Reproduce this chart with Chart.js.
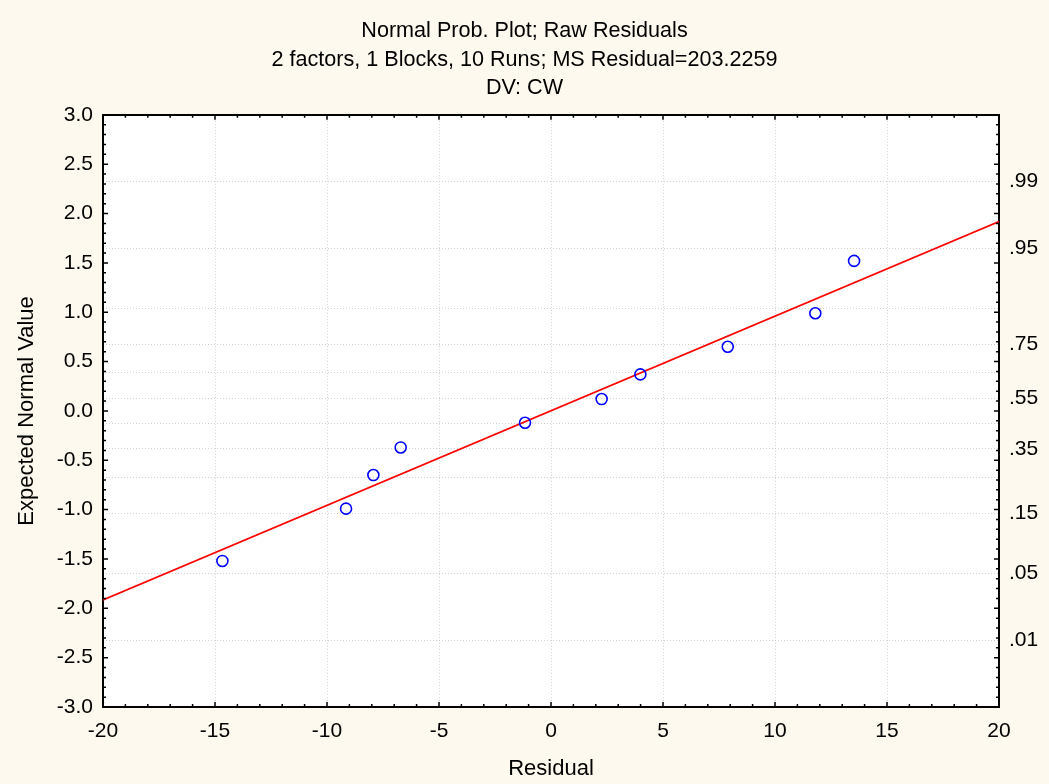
<!DOCTYPE html>
<html>
<head>
<meta charset="utf-8">
<script src="https://cdn.jsdelivr.net/npm/chart.js@4.4.1/dist/chart.umd.min.js"></script>
<style>
  html, body { margin: 0; padding: 0; background: #fdf9ee; }
  #wrap { width: 1049px; height: 784px; }
</style>
</head>
<body>
<div id="wrap"><canvas id="chart" width="1049" height="784"></canvas></div>
<script>
// --- values -------------------------------------------
const residuals = [-14.67, -9.15, -7.93, -6.71, -1.16, 2.26, 3.99, 7.89, 11.80, 13.53];
const expectedNormal = [-1.52, -0.99, -0.65, -0.37, -0.12, 0.12, 0.37, 0.65, 0.99, 1.52];

// fitted line, ends at the plot edges
const fitLineX = [-20, 20];
const fitLineY = [-1.915, 1.919];

// right axis: probabilities and their normal quantiles
const probTicks = ['.01', '.05', '.15', '.25', '.35', '.45', '.55', '.65', '.75', '.85', '.95', '.99'];
const probZ = [-2.326, -1.645, -1.036, -0.674, -0.385, -0.126, 0.126, 0.385, 0.674, 1.036, 1.645, 2.326];
const probLabelled = ['.01', '.05', '.15', '.35', '.55', '.75', '.95', '.99'];

const titleLines = [
  'Normal Prob. Plot; Raw Residuals',
  '2 factors, 1 Blocks, 10 Runs; MS Residual=203.2259',
  'DV: CW'
];

const FONT = '"Liberation Sans", Arial, sans-serif';
const GRID = '#d2d2d2';
const BG = '#fdf9ee';

// cream page, white plot area
const backgroundPlugin = {
  id: 'background',
  beforeDraw(chart) {
    const { ctx, chartArea: a } = chart;
    ctx.save();
    ctx.fillStyle = BG;
    ctx.fillRect(0, 0, chart.width, chart.height);
    ctx.fillStyle = '#fff';
    ctx.fillRect(a.left, a.top, a.right - a.left, a.bottom - a.top);
    ctx.restore();
  }
};

// tick marks pointing into the plot on all four sides
const innerTicksPlugin = {
  id: 'innerTicks',
  afterDraw(chart) {
    const { ctx, chartArea: a, scales } = chart;
    ctx.save();
    ctx.strokeStyle = '#000';
    ctx.lineWidth = 1.5;
    ctx.beginPath();
    for (let i = 0; i <= 40; i++) {
      const px = scales.x.getPixelForValue(-20 + i);
      const len = i % 5 === 0 ? 5 : 3;
      ctx.moveTo(px, a.bottom); ctx.lineTo(px, a.bottom - len);
      ctx.moveTo(px, a.top); ctx.lineTo(px, a.top + len);
    }
    for (let i = 0; i <= 60; i++) {
      const py = scales.y.getPixelForValue(-3 + i * 0.1);
      const len = i % 5 === 0 ? 5 : 3;
      ctx.moveTo(a.left, py); ctx.lineTo(a.left + len, py);
      ctx.moveTo(a.right, py); ctx.lineTo(a.right - len, py);
    }
    ctx.stroke();
    ctx.restore();
  }
};

const axisFont = { family: FONT, size: 21 };
const axisTitleFont = { family: FONT, size: 22 };

const config = {
  type: 'scatter',
  data: {
    datasets: [
      {
        label: 'Residuals',
        data: residuals.map((x, i) => ({ x, y: expectedNormal[i] })),
        pointRadius: 5.5,
        pointBorderWidth: 1.6,
        borderColor: '#0000ff',
        backgroundColor: 'rgba(0,0,0,0)',
        xAxisID: 'x',
        yAxisID: 'y'
      },
      {
        label: 'Fit',
        data: fitLineX.map((x, i) => ({ x, y: fitLineY[i] })),
        showLine: true,
        pointRadius: 0,
        borderColor: '#ff0000',
        borderWidth: 1.6,
        xAxisID: 'x',
        yAxisID: 'y'
      }
    ]
  },
  options: {
    responsive: false,
    animation: false,
    layout: { padding: 0 },
    scales: {
      x: {
        type: 'linear', position: 'bottom', min: -20, max: 20,
        ticks: { stepSize: 5, color: '#000', font: axisFont, padding: 12, maxRotation: 0, autoSkip: false },
        grid: { color: GRID, lineWidth: 1, drawTicks: false },
        border: { color: '#000', width: 2, dash: [1, 2] },
        title: { display: true, text: 'Residual', color: '#000', font: axisTitleFont, padding: { top: 0, bottom: 2 } },
        afterFit(s) { s.height = 77; }
      },
      x2: {
        type: 'linear', position: 'top', min: -20, max: 20,
        ticks: { display: false },
        grid: { display: false, drawTicks: false },
        border: { color: '#000', width: 2 },
        afterFit(s) { s.height = 12.3; }
      },
      y: {
        type: 'linear', position: 'left', min: -3, max: 3,
        ticks: { stepSize: 0.5, color: '#000', font: axisFont, padding: 10, callback: (v) => Number(v).toFixed(1) },
        grid: { display: false, drawTicks: false },
        border: { color: '#000', width: 2 },
        title: { display: true, text: 'Expected Normal Value', color: '#000', font: axisTitleFont, padding: { top: 14, bottom: 0 } },
        afterFit(s) { s.width = 103; }
      },
      y2: {
        type: 'linear', position: 'right', min: -3, max: 3,
        afterBuildTicks(s) { s.ticks = probZ.map((v) => ({ value: v })); },
        ticks: {
          autoSkip: false, color: '#000', font: axisFont, padding: 10,
          callback: (v, i) => probLabelled.includes(probTicks[i]) ? probTicks[i] : ''
        },
        grid: { color: GRID, lineWidth: 1, drawTicks: false },
        border: { color: '#000', width: 2, dash: [1, 2] },
        afterFit(s) { s.width = 50; }
      }
    },
    plugins: {
      legend: { display: false },
      tooltip: { enabled: false },
      title: {
        display: true,
        text: titleLines,
        color: '#000',
        font: { family: FONT, size: 21.6, weight: 'normal', lineHeight: 1.32 },
        padding: { top: 17, bottom: 0 }
      }
    }
  },
  plugins: [backgroundPlugin, innerTicksPlugin]
};

new Chart(document.getElementById('chart'), config);
</script>
</body>
</html>
